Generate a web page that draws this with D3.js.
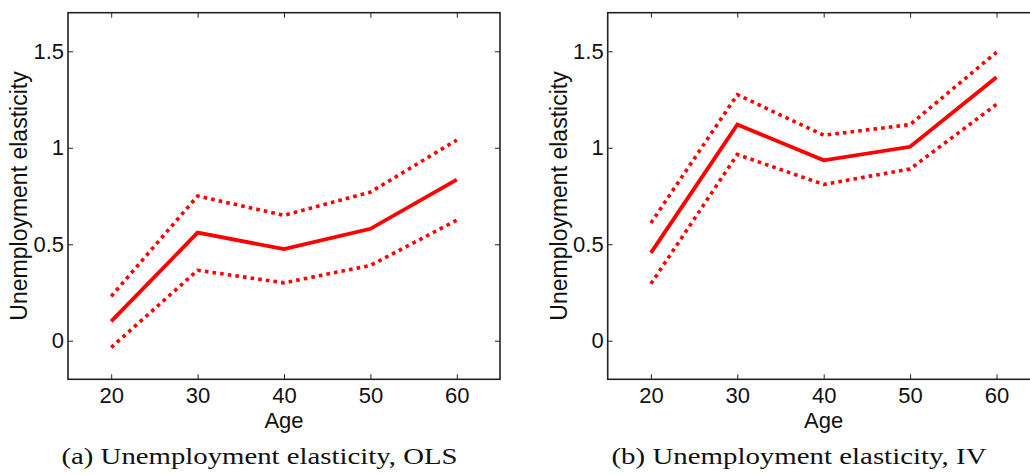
<!DOCTYPE html>
<html>
<head>
<meta charset="utf-8">
<script src="https://cdn.jsdelivr.net/npm/d3@7"></script>
<style>
  body { margin: 0; background: #fff; }
  svg { display: block; }
  .tick text { font-family: "Liberation Sans", Arial, sans-serif; }
</style>
</head>
<body>
<svg id="chart" width="1030" height="475"></svg>
<script>
// ages on the x axis
var ages = [20, 30, 40, 50, 60];

// panel (a) OLS
var olsEst   = [0.10, 0.56, 0.475, 0.58, 0.835];
var olsUpper = [0.23, 0.75, 0.65, 0.77, 1.04];
var olsLower = [-0.035, 0.365, 0.30, 0.39, 0.625];

// panel (b) IV
var ivEst   = [0.455, 1.12, 0.935, 1.005, 1.365];
var ivUpper = [0.61, 1.275, 1.065, 1.12, 1.495];
var ivLower = [0.295, 0.965, 0.81, 0.89, 1.225];

var xTicks = [20, 30, 40, 50, 60];
var yTicks = [0, 0.5, 1, 1.5];

var captions = ["(a) Unemployment elasticity, OLS", "(b) Unemployment elasticity, IV"];

var svg = d3.select("#chart");

function drawPanel(left, capX, est, upper, lower, caption, capLen) {
  var top = 12.7, w = 432, h = 366.6;
  var g = svg.append("g").attr("transform", "translate(" + left + "," + top + ")");

  var x = d3.scaleLinear().domain([15, 65]).range([0, w]);
  var y = d3.scaleLinear().domain([-0.2, 1.7]).range([h, 0]);

  // ticks, inward on all four sides
  var fmt = d3.format("");
  var bottom = g.append("g").attr("transform", "translate(0," + h + ")")
    .call(d3.axisBottom(x).tickValues(xTicks).tickSizeInner(-5).tickSizeOuter(0).tickPadding(8).tickFormat(fmt));
  var leftAx = g.append("g")
    .call(d3.axisLeft(y).tickValues(yTicks).tickSizeInner(-5).tickSizeOuter(0).tickPadding(4).tickFormat(fmt));
  var topAx = g.append("g")
    .call(d3.axisTop(x).tickValues(xTicks).tickSizeInner(-5).tickSizeOuter(0).tickFormat(""));
  var rightAx = g.append("g").attr("transform", "translate(" + w + ",0)")
    .call(d3.axisRight(y).tickValues(yTicks).tickSizeInner(-5).tickSizeOuter(0).tickFormat(""));

  [bottom, leftAx, topAx, rightAx].forEach(function(a) {
    a.select(".domain").remove();
    a.selectAll("line").attr("stroke", "#222").attr("stroke-width", 1);
    a.selectAll("text").attr("font-size", 22).attr("fill", "#111");
  });
  bottom.selectAll("text").attr("dy", "0.71em");

  // box
  g.append("rect").attr("x", 0).attr("y", 0).attr("width", w).attr("height", h)
    .attr("fill", "none").attr("stroke", "#222").attr("stroke-width", 1.6);

  var line = d3.line().x(function(d, i) { return x(ages[i]); }).y(function(d) { return y(d); });

  g.append("path").datum(upper).attr("d", line).attr("fill", "none")
    .attr("stroke", "#ff0000").attr("stroke-width", 3.6).attr("stroke-dasharray", "3.6,4.1");
  g.append("path").datum(lower).attr("d", line).attr("fill", "none")
    .attr("stroke", "#ff0000").attr("stroke-width", 3.6).attr("stroke-dasharray", "3.6,4.1");
  g.append("path").datum(est).attr("d", line).attr("fill", "none")
    .attr("stroke", "#ff0000").attr("stroke-width", 3.8).attr("stroke-linejoin", "miter");

  // axis titles
  g.append("text").attr("x", x(40)).attr("y", h + 49)
    .attr("text-anchor", "middle").attr("font-family", "Liberation Sans, Arial, sans-serif")
    .attr("font-size", 22).attr("fill", "#111").text("Age");
  g.append("text")
    .attr("transform", "translate(" + (-41) + "," + y(0.75) + ") rotate(-90)")
    .attr("text-anchor", "middle").attr("font-family", "Liberation Sans, Arial, sans-serif")
    .attr("font-size", 23).attr("fill", "#111").text("Unemployment elasticity");

  // caption
  svg.append("text").attr("x", capX).attr("y", 464)
    .attr("text-anchor", "middle").attr("font-family", "Liberation Serif, Times New Roman, serif")
    .attr("font-size", 24).attr("fill", "#111")
    .attr("textLength", capLen).attr("lengthAdjust", "spacingAndGlyphs")
    .text(caption);
}

drawPanel(68, 259.5, olsEst, olsUpper, olsLower, captions[0], 396);
drawPanel(607.7, 799, ivEst, ivUpper, ivLower, captions[1], 375);
</script>
</body>
</html>
